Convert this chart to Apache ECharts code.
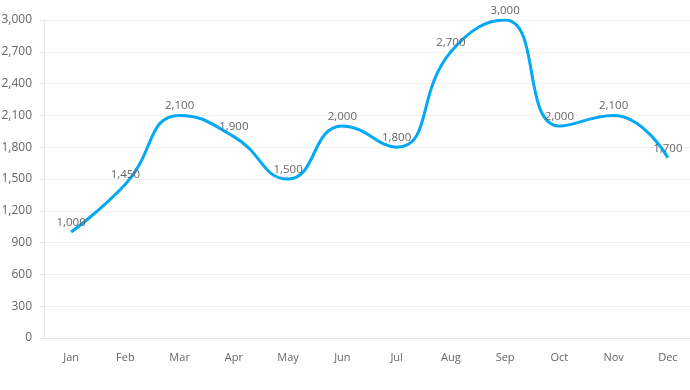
<!DOCTYPE html>
<html><head><meta charset="utf-8">
<script src="https://cdn.jsdelivr.net/npm/echarts@6/dist/echarts.min.js"></script>
<style>html,body{margin:0;padding:0;background:#fff;overflow:hidden}#c{width:700px;height:390px}</style>
</head><body><div id="c"></div>
<script>
const months = ['Jan','Feb','Mar','Apr','May','Jun','Jul','Aug','Sep','Oct','Nov','Dec'];
const values = [1000,1450,2100,1900,1500,2000,1800,2700,3000,2000,2100,1700];
const chart = echarts.init(document.getElementById('c'));
chart.setOption({
  animation:false,
  textStyle:{fontFamily:'Open Sans'},
  grid:{left:44,right:5,top:20,bottom:52,outerBoundsMode:'none'},
  xAxis:{type:'category',data:months,boundaryGap:true,
    axisLine:{lineStyle:{color:'#e6e6e6'}},axisTick:{show:false},
    axisLabel:{color:'#666',fontSize:11,margin:14,fontFamily:'Open Sans'}},
  yAxis:{type:'value',min:0,max:3000,interval:300,
    axisLine:{show:true,lineStyle:{color:'#e6e6e6'}},
    axisTick:{show:true,length:4,lineStyle:{color:'#e6e6e6'}},
    splitLine:{lineStyle:{color:'#f0f0f0'}},
    axisLabel:{color:'#666',fontSize:12,margin:12,fontFamily:'Open Sans',
      formatter:v=>v.toLocaleString('en-US')}},
  series:[{type:'line',data:values,smooth:true,showSymbol:true,symbol:'circle',symbolSize:1,
    lineStyle:{color:'#03a9f4',width:3},itemStyle:{color:'rgba(3,169,244,0)'},
    label:{show:true,position:'top',color:'#666',fontSize:11.5,fontFamily:'Open Sans',distance:3,
      formatter:p=>p.value.toLocaleString('en-US')}}]
});
</script></body></html>
